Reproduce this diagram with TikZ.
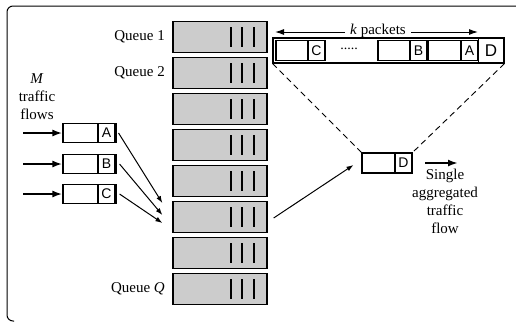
\documentclass[tikz,border=0pt]{standalone}
\usepackage{fontspec}
\setmainfont{Liberation Serif}
\setsansfont{Liberation Sans}
\usetikzlibrary{arrows.meta,calc}
\begin{document}
\begin{tikzpicture}[x=1pt,y=-1pt,
  queue/.style={draw,line width=1.3pt,fill=gray!40,minimum width=94pt,minimum height=31pt,inner sep=0pt},
  bar/.style={line width=1.6pt},
  lbl/.style={font=\fontsize{15}{18}\selectfont,inner sep=0pt},
  pkt/.style={draw,line width=1.1pt,minimum width=53pt,minimum height=19pt,inner sep=0pt},
  cell/.style={draw,line width=1.1pt,minimum width=17pt,minimum height=19pt,inner sep=0pt,font=\sffamily\fontsize{14}{14}\selectfont},
  tpkt/.style={draw,line width=1.1pt,minimum width=49pt,minimum height=20pt,inner sep=0pt},
  tcell/.style={draw,line width=1.1pt,minimum width=17pt,minimum height=20pt,inner sep=0pt,font=\sffamily\fontsize{14}{14}\selectfont},
  flow/.style={-{Latex[length=7pt,width=5pt]},line width=1pt},
  bigflow/.style={-{Latex[length=10pt,width=7pt]},line width=2pt},
]
\useasboundingbox (0,0) rectangle (516,322);
% frame
\draw[line width=1pt,rounded corners=6pt] (516,6) -- (7,6) -- (7,321) -- (14,321);
% queues
\foreach \i/\y in {1/37,2/73,3/109,4/145,5/181,6/217,7/253,8/289}{
  \node[queue] (q\i) at (220,\y) {};
  \foreach \bx in {231,242,254}{
    \draw[bar] (\bx,\y-10) -- (\bx,\y+10);
  }
}
\node[lbl,anchor=east] (l1) at (165,37) {Queue 1};
\node[lbl,anchor=east] (l2) at (165,73) {Queue 2};
\node[lbl,anchor=east] (lq) at (165,289) {Queue \textit{Q}};
\node[lbl,align=center] (mflows) at (37,97) {\textit{M}\\traffic\\flows};
% input packets
\foreach \n/\y in {A/133,B/164,C/194}{
  \node[pkt] (p\n) at (89.5,\y) {};
  \node[cell] (c\n) at (106.5,\y) {\n};
  \coordinate (s\n) at (23,\y);
  \draw[bigflow] (s\n) -- (p\n.west);
}
\coordinate (eA) at ($(q6.west)+(-10,-14)$);
\coordinate (eB) at ($(q6.west)+(-10,-2)$);
\coordinate (eC) at ($(q6.west)+(-10,6)$);
\draw[flow] ($(pA.east)+(2,0)$) -- (eA);
\draw[flow] ($(pB.east)+(3,0)$) -- (eB);
\draw[flow] ($(pC.east)+(3,0)$) -- (eC);
% aggregated packet
\node[draw,line width=1.1pt,minimum width=50pt,minimum height=20pt,inner sep=0pt] (dbox) at (387,163) {};
\node[tcell] (dcell) at (403.5,163) {D};
\draw[flow] ($(q6.east)+(6,1)$) -- ($(dbox.west)+(-8,2)$);
\coordinate (oa) at (425,163);
\coordinate (ob) at (458,163);
\draw[bigflow] (oa) -- (ob);
\node[lbl,align=center] (single) at (445,201.5) {Single\\aggregated\\traffic\\flow};
% top row
\node[draw,line width=1.1pt,minimum width=231pt,minimum height=25pt,inner sep=0pt] (row) at (388.5,50.5) {};
\node[tpkt] (tC) at (300.5,50.5) {};
\node[tcell] (tcC) at (316.5,50.5) {C};
\node[font=\fontsize{14}{14}\selectfont] (dots) at (349,49) {.....};
\node[tpkt] (tB) at (402.5,50.5) {};
\node[tcell] (tcB) at (418.5,50.5) {B};
\node[tpkt] (tA) at (453,50.5) {};
\node[tcell] (tcA) at (469.5,50.5) {A};
\node[font=\sffamily\fontsize{17}{17}\selectfont] (tD) at (491,50.5) {D};
\draw[line width=1.1pt] (478.5,38) -- (478.5,63);
% k packets
\node[lbl] (kp) at (378,31) {\textit{k} packets};
\coordinate (kl) at (275,32);
\coordinate (kr) at (478,32);
\draw[-{Latex[length=9pt,width=6pt]},line width=1pt] ($(kp.west)+(-5,1)$) -- (kl);
\draw[-{Latex[length=9pt,width=6pt]},line width=1pt] ($(kp.east)+(5,1)$) -- (kr);
% dashed
\draw[dashed,line width=0.9pt,dash pattern=on 6pt off 4pt] (row.south west) -- (dbox.north west);
\draw[dashed,line width=0.9pt,dash pattern=on 6pt off 4pt] (row.south east) -- (dbox.north east);
\end{tikzpicture}
\end{document}
